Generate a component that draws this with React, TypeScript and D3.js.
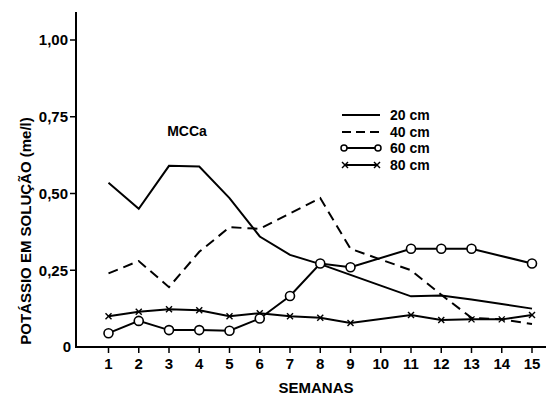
import React from 'react';
import * as d3 from 'd3';

const WIDTH = 546;
const HEIGHT = 399;

// semanas 1..15
const weeks = [1, 2, 3, 4, 5, 6, 7, 8, 9, 10, 11, 12, 13, 14, 15];
const yTicks = [0, 0.25, 0.5, 0.75, 1.0];
const yTickLabels = ['0', '0,25', '0,50', '0,75', '1,00'];

const k20 = [0.535, 0.45, 0.59, 0.588, 0.485, 0.36, 0.3, 0.27, 0.235, 0.2, 0.165, 0.168, 0.155, 0.14, 0.125];
const k40 = [0.24, 0.28, 0.195, 0.31, 0.39, 0.385, 0.435, 0.485, 0.32, 0.285, 0.25, 0.17, 0.095, 0.09, 0.075];
const weeks60 = [1, 2, 3, 4, 5, 6, 7, 8, 9, 11, 12, 13, 15];
const k60 = [0.045, 0.085, 0.055, 0.055, 0.053, 0.093, 0.166, 0.272, 0.26, 0.32, 0.32, 0.32, 0.272];
const weeks80 = [1, 2, 3, 4, 5, 6, 7, 8, 9, 11, 12, 13, 14, 15];
const k80 = [0.1, 0.115, 0.123, 0.12, 0.1, 0.11, 0.1, 0.095, 0.078, 0.104, 0.088, 0.09, 0.09, 0.104];

const legendLabels = ['20 cm', '40 cm', '60 cm', '80 cm'];

const FONT = '"Liberation Sans", Arial, sans-serif';

const xScale = d3.scaleLinear().domain([1, 15]).range([108.5, 532]);
const yScale = d3.scaleLinear().domain([0, 1]).range([347, 40]);

const AXIS_X = 76;

const line = d3
  .line<[number, number]>()
  .x((d) => xScale(d[0]))
  .y((d) => yScale(d[1]));

const Cross = ({ x, y }: { x: number; y: number }) => (
  <g stroke="#000" strokeWidth={1.4}>
    <line x1={x - 3} y1={y - 3} x2={x + 3} y2={y + 3} />
    <line x1={x - 3} y1={y + 3} x2={x + 3} y2={y - 3} />
  </g>
);

const App = () => {
  const s20 = weeks.map((w, i) => [w, k20[i]] as [number, number]);
  const s40 = weeks.map((w, i) => [w, k40[i]] as [number, number]);
  const s60 = weeks60.map((w, i) => [w, k60[i]] as [number, number]);
  const s80 = weeks80.map((w, i) => [w, k80[i]] as [number, number]);

  const legendY = [115, 132, 148, 165];
  const lx0 = 342;
  const lx1 = 380;

  return (
    <svg
      width={WIDTH}
      height={HEIGHT}
      viewBox={`0 0 ${WIDTH} ${HEIGHT}`}
      style={{ position: 'absolute', left: 0, top: 0, background: '#fff' }}
      fontFamily={FONT}
      fontWeight="bold"
    >
      {/* eixos */}
      <line x1={AXIS_X} x2={AXIS_X} y1={12} y2={yScale(0)} stroke="#000" strokeWidth={2} />
      <line x1={AXIS_X - 1} x2={WIDTH} y1={yScale(0)} y2={yScale(0)} stroke="#000" strokeWidth={2} />

      {yTicks.map((t, i) => (
        <g key={`yt-${i}`}>
          {t > 0 && (
            <line x1={AXIS_X - 6} x2={AXIS_X} y1={yScale(t)} y2={yScale(t)} stroke="#000" strokeWidth={1.5} />
          )}
          <text
            x={t > 0 ? AXIS_X - 8 : AXIS_X - 5}
            y={yScale(t)}
            dy="0.35em"
            textAnchor="end"
            fontSize={15}
          >
            {yTickLabels[i]}
          </text>
        </g>
      ))}

      {weeks.map((w) => (
        <g key={`xt-${w}`}>
          <line x1={xScale(w)} x2={xScale(w)} y1={yScale(0)} y2={yScale(0) + 6} stroke="#000" strokeWidth={1.5} />
          <text x={xScale(w)} y={369} textAnchor="middle" fontSize={15}>
            {w}
          </text>
        </g>
      ))}

      <text x={316} y={393} textAnchor="middle" fontSize={15}>
        SEMANAS
      </text>
      <text
        transform={`translate(31, 231) rotate(-90)`}
        textAnchor="middle"
        fontSize={15}
      >
        POTÁSSIO EM SOLUÇÃO (me/l)
      </text>

      <text x={187} y={136} textAnchor="middle" fontSize={14}>
        MCCa
      </text>

      {/* séries */}
      <path d={line(s20) || ''} fill="none" stroke="#000" strokeWidth={2} />
      <path d={line(s40) || ''} fill="none" stroke="#000" strokeWidth={2} strokeDasharray="10,6" />
      <path d={line(s60) || ''} fill="none" stroke="#000" strokeWidth={2} />
      <path d={line(s80) || ''} fill="none" stroke="#000" strokeWidth={2} />
      {s80.map((d, i) => (
        <Cross key={`x-${i}`} x={xScale(d[0])} y={yScale(d[1])} />
      ))}
      {s60.map((d, i) => (
        <circle key={`c-${i}`} cx={xScale(d[0])} cy={yScale(d[1])} r={4.5} fill="#fff" stroke="#000" strokeWidth={1.6} />
      ))}

      {/* legenda */}
      <g>
        <line x1={lx0} x2={lx1} y1={legendY[0]} y2={legendY[0]} stroke="#000" strokeWidth={2} />
        <line x1={lx0} x2={lx1} y1={legendY[1]} y2={legendY[1]} stroke="#000" strokeWidth={2} strokeDasharray="9,5" />
        <line x1={lx0 + 3} x2={lx1 - 3} y1={legendY[2]} y2={legendY[2]} stroke="#000" strokeWidth={2} />
        <circle cx={lx0 + 2} cy={legendY[2]} r={3} fill="#fff" stroke="#000" strokeWidth={1.5} />
        <circle cx={lx1 - 2} cy={legendY[2]} r={3} fill="#fff" stroke="#000" strokeWidth={1.5} />
        <line x1={lx0 + 2} x2={lx1 - 2} y1={legendY[3]} y2={legendY[3]} stroke="#000" strokeWidth={2} />
        <Cross x={lx0 + 3} y={legendY[3]} />
        <Cross x={lx1 - 3} y={legendY[3]} />
        {legendLabels.map((l, i) => (
          <text key={l} x={390} y={legendY[i]} dy="0.35em" fontSize={14}>
            {l}
          </text>
        ))}
      </g>
    </svg>
  );
};

export default App;
